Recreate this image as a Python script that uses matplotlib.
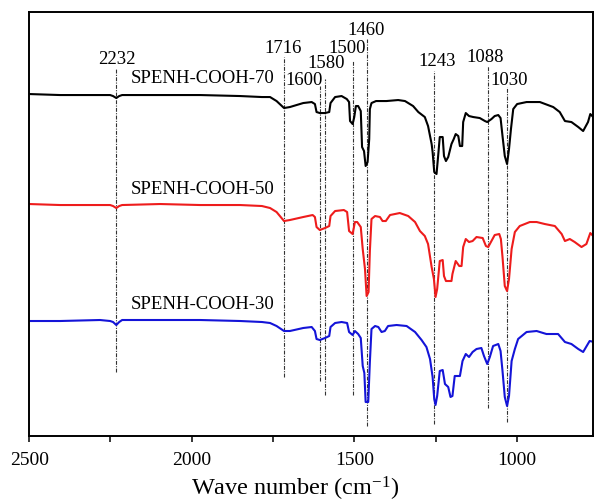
import numpy as np
import matplotlib
matplotlib.use("Agg")
import matplotlib.pyplot as plt

plt.rcParams["font.family"] = ["Liberation Serif", "DejaVu Serif"]
plt.rcParams["mathtext.fontset"] = "custom"
plt.rcParams["mathtext.rm"] = "Liberation Serif"
plt.rcParams["mathtext.it"] = "Liberation Serif:italic"

# ---------- spectra (wave number, transmittance a.u. incl. stacking offset) ----------
wn70 = [2500, 2405, 2282, 2251, 2242, 2232, 2223, 2214, 2097, 1974, 1851, 1784, 1759, 1739,
        1716, 1698, 1657, 1631, 1621, 1616, 1606, 1590, 1577, 1573, 1559, 1539, 1523, 1516,
        1513, 1505, 1500, 1495, 1488, 1480, 1476, 1470, 1465, 1459, 1454, 1452, 1447, 1433,
        1416, 1401, 1365, 1344, 1319, 1303, 1283, 1273, 1262, 1259, 1254, 1247, 1242, 1237,
        1228, 1224, 1218, 1211, 1201, 1194, 1188, 1180, 1175, 1168, 1165, 1157, 1147, 1134,
        1114, 1098, 1091, 1078, 1068, 1057, 1050, 1044, 1037, 1030, 1024, 1018, 1011, 999,
        970, 929, 888, 868, 852, 832, 811, 796, 781, 774, 765]
t70 = [342, 341, 341, 341, 340, 338, 340, 341, 341, 341, 340, 339, 339, 335,
       328, 329, 333, 334, 332, 324, 323, 323, 324, 333, 339, 340, 337, 334,
       315, 312, 319, 330, 330, 325, 289, 285, 270, 274, 297, 327, 333, 335,
       335, 335, 336, 335, 330, 324, 319, 310, 292, 284, 264, 262, 280, 299,
       299, 280, 275, 279, 292, 297, 302, 300, 290, 290, 314, 323, 320, 319,
       318, 315, 314, 317, 320, 321, 318, 300, 280, 272, 287, 307, 327, 332,
       334, 334, 329, 324, 315, 314, 309, 305, 314, 322, 319]

wn50 = [2500, 2405, 2282, 2251, 2242, 2232, 2223, 2214, 2097, 1974, 1851, 1784, 1759, 1739,
        1716, 1698, 1657, 1628, 1621, 1616, 1606, 1590, 1577, 1573, 1559, 1532, 1522, 1516,
        1505, 1498, 1491, 1480, 1474, 1467, 1462, 1456, 1452, 1447, 1436, 1421, 1413, 1403,
        1390, 1360, 1334, 1313, 1298, 1283, 1273, 1262, 1255, 1250, 1245, 1237, 1228, 1224,
        1218, 1201, 1198, 1188, 1177, 1170, 1165, 1157, 1147, 1136, 1124, 1105, 1095, 1088,
        1078, 1068, 1054, 1049, 1044, 1037, 1030, 1024, 1016, 1006, 991, 960, 939, 914,
        883, 862, 852, 837, 822, 801, 786, 774, 762]
t50 = [232, 231, 231, 231, 230, 228, 230, 231, 232, 231, 231, 230, 228, 224,
       215, 216, 219, 221, 219, 209, 206, 208, 210, 220, 225, 226, 224, 205,
       202, 214, 214, 209, 187, 167, 140, 144, 185, 217, 220, 219, 215, 215,
       221, 223, 220, 214, 205, 200, 192, 169, 157, 139, 147, 175, 176, 160,
       155, 155, 162, 175, 170, 170, 189, 197, 194, 195, 199, 198, 190, 189,
       195, 201, 202, 197, 179, 150, 145, 157, 187, 204, 210, 214, 214, 212,
       210, 202, 195, 197, 194, 189, 192, 203, 199]

wn30 = [2500, 2405, 2282, 2251, 2242, 2232, 2223, 2214, 2097, 1974, 1851, 1784, 1759, 1739,
        1716, 1698, 1657, 1631, 1621, 1616, 1606, 1590, 1577, 1573, 1559, 1539, 1522, 1516,
        1505, 1498, 1488, 1480, 1474, 1469, 1465, 1457, 1452, 1447, 1436, 1426, 1416, 1406,
        1396, 1370, 1339, 1313, 1293, 1278, 1267, 1259, 1254, 1250, 1245, 1237, 1228, 1221,
        1211, 1204, 1198, 1191, 1175, 1167, 1157, 1147, 1136, 1124, 1109, 1101, 1091, 1083,
        1073, 1057, 1050, 1044, 1037, 1030, 1024, 1016, 1006, 996, 970, 939, 909, 873,
        852, 832, 811, 796, 776, 762]
t30 = [115, 115, 116, 115, 114, 111, 114, 116, 116, 116, 115, 114, 113, 110,
       105, 105, 108, 109, 105, 97, 96, 98, 100, 109, 113, 114, 113, 104,
       101, 105, 102, 98, 70, 63, 34, 34, 74, 107, 110, 109, 104, 105,
       110, 111, 110, 104, 96, 89, 77, 59, 37, 31, 40, 65, 66, 52,
       49, 39, 40, 60, 60, 75, 82, 79, 84, 87, 88, 80, 72, 79,
       90, 92, 85, 65, 39, 30, 40, 75, 87, 97, 104, 105, 102, 102,
       94, 92, 87, 84, 95, 94]

series = [("SPENH-COOH-70", wn70, t70, "black"),
          ("SPENH-COOH-50", wn50, t50, "#ee1c1c"),
          ("SPENH-COOH-30", wn30, t30, "#1414d8")]
name_x = 1965
name_y = [359, 248, 133]

# ---------- assigned peaks ----------
peak_labels = ["2232", "1716", "1600", "1580", "1500", "1460", "1243", "1088", "1030"]
peak_wn = [2232, 1716, 1605, 1590, 1505, 1462, 1254, 1090, 1030]
peak_top = [368, 379, 350, 357, 375, 397, 365, 370, 349]
peak_bottom = [64, 59, 55, 41, 41, 10, 12, 28, 14]
label_wn = [2229, 1719, 1655, 1587, 1523, 1464, 1246, 1098, 1025]
label_y = [378, 389, 357, 374, 389, 407, 376, 380, 357]

fig = plt.figure(figsize=(5.95, 5.02), dpi=100)
ax = fig.add_axes([0.049, 0.1295, 0.948, 0.8445])

for wn, top, bot in zip(peak_wn, peak_top, peak_bottom):
    ax.plot([wn, wn], [bot, top], color="#333333", lw=0.8, dashes=(3.5, 1.2, 1, 1.2))
for lab, x, y in zip(peak_labels, label_wn, label_y):
    ax.text(x, y, lab, ha="center", va="center", fontsize=13.5)

for (name, wn, t, col), ny in zip(series, name_y):
    ax.plot(wn, t, color=col, lw=1.5)
    ax.text(name_x, ny, name, ha="center", va="center", fontsize=13.5)

ax.set_xlim(2500, 765)
ax.set_ylim(0, 424)
ax.set_xticks([2500, 2000, 1500, 1000])
ax.set_xticks([2250, 1750, 1250], minor=True)
ax.set_yticks([])
ax.tick_params(axis="x", which="both", direction="out", length=4.5, width=1.1,
               labelsize=14, pad=6)
for s in ax.spines.values():
    s.set_linewidth(1.4)
ax.set_xlabel("Wave number (cm$^{-1}$)", fontsize=17.5)
ax.xaxis.set_label_coords(0.471, -0.09)

fig.savefig("out.png", dpi=100)
